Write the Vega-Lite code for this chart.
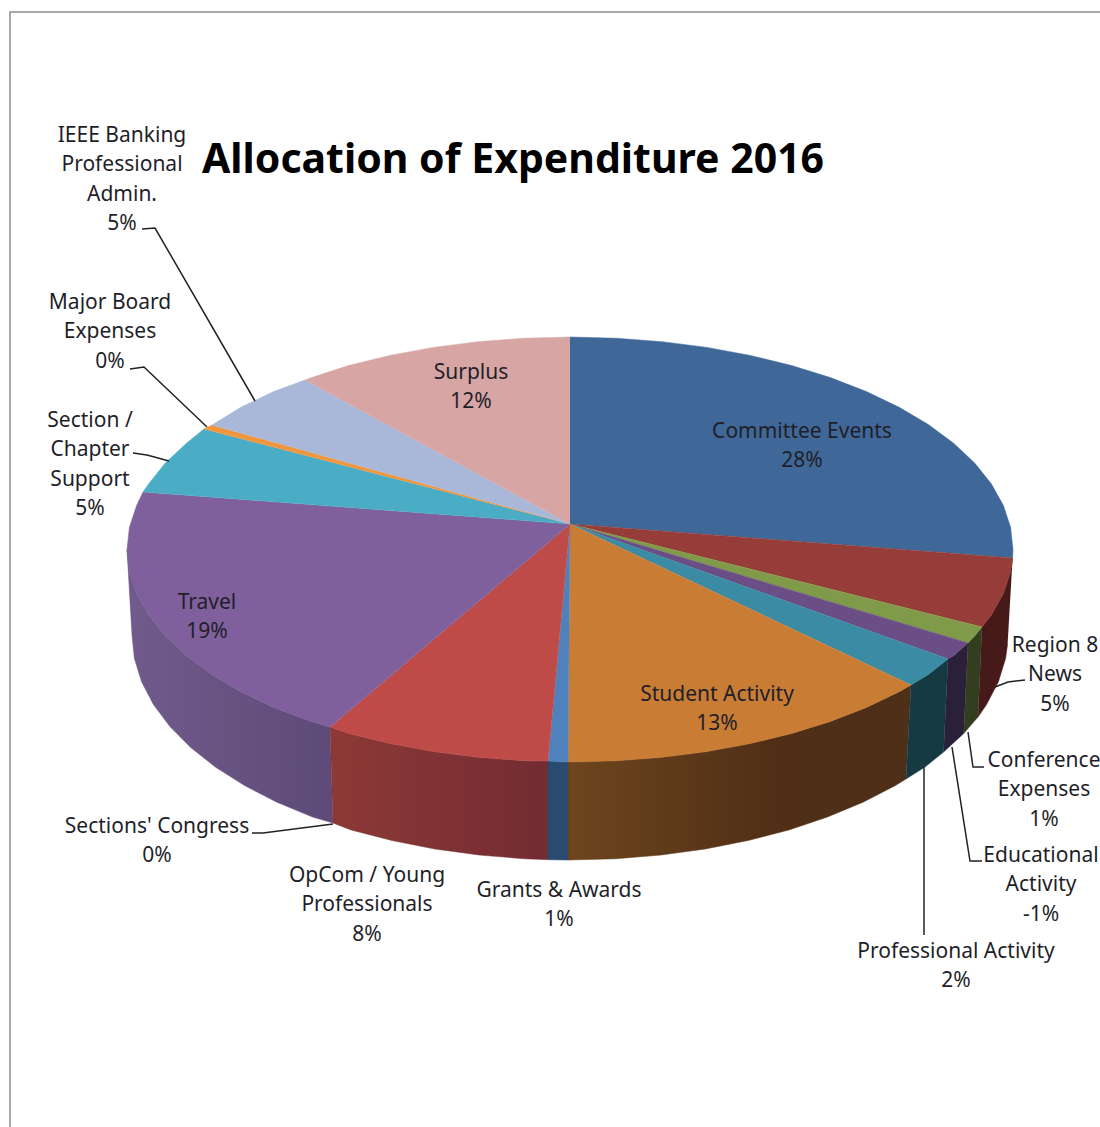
{"$schema":"https://vega.github.io/schema/vega-lite/v6.json","autosize":{"type":"none"},"width":1100,"height":1127,"padding":0,"background":"white","config":{"view":{"stroke":null}},
"resolve":{"scale":{"fill":"independent","stroke":"independent"}},
"datasets":{
"top":[
{"s":"Committee Events","i":0,"x":570,"y":524},{"s":"Committee Events","i":1,"x":570,"y":337},{"s":"Committee Events","i":2,"x":616.3,"y":338.2},{"s":"Committee Events","i":3,"x":662.1,"y":341.7},{"s":"Committee Events","i":4,"x":706.9,"y":347.4},{"s":"Committee Events","i":5,"x":750.2,"y":355.4},{"s":"Committee Events","i":6,"x":791.5,"y":365.5},{"s":"Committee Events","i":7,"x":830.4,"y":377.6},{"s":"Committee Events","i":8,"x":866.4,"y":391.6},{"s":"Committee Events","i":9,"x":899.2,"y":407.3},{"s":"Committee Events","i":10,"x":928.4,"y":424.6},{"s":"Committee Events","i":11,"x":953.6,"y":443.2},{"s":"Committee Events","i":12,"x":974.7,"y":463.1},{"s":"Committee Events","i":13,"x":991.3,"y":483.8},{"s":"Committee Events","i":14,"x":1003.3,"y":505.3},{"s":"Committee Events","i":15,"x":1010.6,"y":527.3},{"s":"Committee Events","i":16,"x":1013,"y":549.5},{"s":"Committee Events","i":17,"x":1012.6,"y":558},
{"s":"Region 8 News","i":0,"x":570,"y":524},{"s":"Region 8 News","i":1,"x":1012.6,"y":558},{"s":"Region 8 News","i":2,"x":1010.6,"y":571.7},{"s":"Region 8 News","i":3,"x":1003.3,"y":593.7},{"s":"Region 8 News","i":4,"x":991.3,"y":615.2},{"s":"Region 8 News","i":5,"x":982,"y":627},
{"s":"Conference Expenses","i":0,"x":570,"y":524},{"s":"Conference Expenses","i":1,"x":982,"y":627},{"s":"Conference Expenses","i":2,"x":974.7,"y":635.9},{"s":"Conference Expenses","i":3,"x":968,"y":643},
{"s":"Educational Activity","i":0,"x":570,"y":524},{"s":"Educational Activity","i":1,"x":968,"y":643},{"s":"Educational Activity","i":2,"x":953.6,"y":655.8},{"s":"Educational Activity","i":3,"x":948,"y":659},
{"s":"Professional Activity","i":0,"x":570,"y":524},{"s":"Professional Activity","i":1,"x":948,"y":659},{"s":"Professional Activity","i":2,"x":928.4,"y":674.4},{"s":"Professional Activity","i":3,"x":911,"y":685},
{"s":"Student Activity","i":0,"x":570,"y":524},{"s":"Student Activity","i":1,"x":911,"y":685},{"s":"Student Activity","i":2,"x":899.2,"y":691.7},{"s":"Student Activity","i":3,"x":866.4,"y":707.4},{"s":"Student Activity","i":4,"x":830.4,"y":721.4},{"s":"Student Activity","i":5,"x":791.5,"y":733.5},{"s":"Student Activity","i":6,"x":750.2,"y":743.6},{"s":"Student Activity","i":7,"x":706.9,"y":751.6},{"s":"Student Activity","i":8,"x":662.1,"y":757.3},{"s":"Student Activity","i":9,"x":616.3,"y":760.8},{"s":"Student Activity","i":10,"x":570,"y":762},{"s":"Student Activity","i":11,"x":568,"y":762},
{"s":"Grants & Awards","i":0,"x":570,"y":524},{"s":"Grants & Awards","i":1,"x":568,"y":762},{"s":"Grants & Awards","i":2,"x":548,"y":761},
{"s":"OpCom / Young Professionals","i":0,"x":570,"y":524},{"s":"OpCom / Young Professionals","i":1,"x":548,"y":761},{"s":"OpCom / Young Professionals","i":2,"x":523.7,"y":760.8},{"s":"OpCom / Young Professionals","i":3,"x":477.9,"y":757.3},{"s":"OpCom / Young Professionals","i":4,"x":433.1,"y":751.6},{"s":"OpCom / Young Professionals","i":5,"x":389.8,"y":743.6},{"s":"OpCom / Young Professionals","i":6,"x":348.5,"y":733.5},{"s":"OpCom / Young Professionals","i":7,"x":330,"y":727},
{"s":"Travel","i":0,"x":570,"y":524},{"s":"Travel","i":1,"x":330,"y":727},{"s":"Travel","i":2,"x":311.6,"y":721.4},{"s":"Travel","i":3,"x":273.6,"y":707.4},{"s":"Travel","i":4,"x":240.8,"y":691.7},{"s":"Travel","i":5,"x":211.6,"y":674.4},{"s":"Travel","i":6,"x":186.4,"y":655.8},{"s":"Travel","i":7,"x":165.3,"y":635.9},{"s":"Travel","i":8,"x":148.7,"y":615.2},{"s":"Travel","i":9,"x":136.7,"y":593.7},{"s":"Travel","i":10,"x":129.4,"y":571.7},{"s":"Travel","i":11,"x":127,"y":549.5},{"s":"Travel","i":12,"x":129.4,"y":527.3},{"s":"Travel","i":13,"x":136.7,"y":505.3},{"s":"Travel","i":14,"x":143,"y":492},
{"s":"Section / Chapter Support","i":0,"x":570,"y":524},{"s":"Section / Chapter Support","i":1,"x":143,"y":492},{"s":"Section / Chapter Support","i":2,"x":148.7,"y":483.8},{"s":"Section / Chapter Support","i":3,"x":165.3,"y":463.1},{"s":"Section / Chapter Support","i":4,"x":186.4,"y":443.2},{"s":"Section / Chapter Support","i":5,"x":204,"y":429},
{"s":"Major Board Expenses","i":0,"x":570,"y":524},{"s":"Major Board Expenses","i":1,"x":204,"y":429},{"s":"Major Board Expenses","i":2,"x":212,"y":425},
{"s":"IEEE Banking Professional Admin.","i":0,"x":570,"y":524},{"s":"IEEE Banking Professional Admin.","i":1,"x":212,"y":425},{"s":"IEEE Banking Professional Admin.","i":2,"x":240.8,"y":407.3},{"s":"IEEE Banking Professional Admin.","i":3,"x":273.6,"y":391.6},{"s":"IEEE Banking Professional Admin.","i":4,"x":305,"y":380},
{"s":"Surplus","i":0,"x":570,"y":524},{"s":"Surplus","i":1,"x":305,"y":380},{"s":"Surplus","i":2,"x":311.6,"y":377.6},{"s":"Surplus","i":3,"x":348.5,"y":365.5},{"s":"Surplus","i":4,"x":389.8,"y":355.4},{"s":"Surplus","i":5,"x":433.1,"y":347.4},{"s":"Surplus","i":6,"x":477.9,"y":341.7},{"s":"Surplus","i":7,"x":523.7,"y":338.2},{"s":"Surplus","i":8,"x":570,"y":337}
],
"walls":[
{"s":"Region 8 News","i":0,"x":1012.6,"y":558},{"s":"Region 8 News","i":1,"x":1010.6,"y":571.7},{"s":"Region 8 News","i":2,"x":1003.3,"y":593.7},{"s":"Region 8 News","i":3,"x":991.3,"y":615.2},{"s":"Region 8 News","i":4,"x":982,"y":627},{"s":"Region 8 News","i":5,"x":978,"y":717},{"s":"Region 8 News","i":6,"x":986.6,"y":704.5},{"s":"Region 8 News","i":7,"x":998.4,"y":681.8},{"s":"Region 8 News","i":8,"x":1005.6,"y":658.5},{"s":"Region 8 News","i":9,"x":1007.6,"y":644},
{"s":"Conference Expenses","i":0,"x":982,"y":627},{"s":"Conference Expenses","i":1,"x":974.7,"y":635.9},{"s":"Conference Expenses","i":2,"x":968,"y":643},{"s":"Conference Expenses","i":3,"x":963.7,"y":733.6},{"s":"Conference Expenses","i":4,"x":978,"y":717},
{"s":"Educational Activity","i":0,"x":968,"y":643},{"s":"Educational Activity","i":1,"x":953.6,"y":655.8},{"s":"Educational Activity","i":2,"x":948,"y":659},{"s":"Educational Activity","i":3,"x":943.6,"y":752},{"s":"Educational Activity","i":4,"x":963.7,"y":733.6},
{"s":"Professional Activity","i":0,"x":948,"y":659},{"s":"Professional Activity","i":1,"x":928.4,"y":674.4},{"s":"Professional Activity","i":2,"x":911,"y":685},{"s":"Professional Activity","i":3,"x":906,"y":779},{"s":"Professional Activity","i":4,"x":925,"y":767},{"s":"Professional Activity","i":5,"x":943.6,"y":752},
{"s":"Student Activity","i":0,"x":911,"y":685},{"s":"Student Activity","i":1,"x":899.2,"y":691.7},{"s":"Student Activity","i":2,"x":866.4,"y":707.4},{"s":"Student Activity","i":3,"x":830.4,"y":721.4},{"s":"Student Activity","i":4,"x":791.5,"y":733.5},{"s":"Student Activity","i":5,"x":750.2,"y":743.6},{"s":"Student Activity","i":6,"x":706.9,"y":751.6},{"s":"Student Activity","i":7,"x":662.1,"y":757.3},{"s":"Student Activity","i":8,"x":616.3,"y":760.8},{"s":"Student Activity","i":9,"x":568,"y":762},{"s":"Student Activity","i":10,"x":568,"y":860},{"s":"Student Activity","i":11,"x":615.8,"y":858.8},{"s":"Student Activity","i":12,"x":661.1,"y":855},{"s":"Student Activity","i":13,"x":705.3,"y":849},{"s":"Student Activity","i":14,"x":748.1,"y":840.5},{"s":"Student Activity","i":15,"x":789,"y":829.9},{"s":"Student Activity","i":16,"x":827.5,"y":817},{"s":"Student Activity","i":17,"x":863.1,"y":802.2},{"s":"Student Activity","i":18,"x":895.5,"y":785.5},{"s":"Student Activity","i":19,"x":906,"y":779},
{"s":"Grants & Awards","i":0,"x":568,"y":762},{"s":"Grants & Awards","i":1,"x":548,"y":761},{"s":"Grants & Awards","i":2,"x":548,"y":859.7},{"s":"Grants & Awards","i":3,"x":568,"y":860},
{"s":"OpCom / Young Professionals","i":0,"x":548,"y":761},{"s":"OpCom / Young Professionals","i":1,"x":523.7,"y":760.8},{"s":"OpCom / Young Professionals","i":2,"x":477.9,"y":757.3},{"s":"OpCom / Young Professionals","i":3,"x":433.1,"y":751.6},{"s":"OpCom / Young Professionals","i":4,"x":389.8,"y":743.6},{"s":"OpCom / Young Professionals","i":5,"x":348.5,"y":733.5},{"s":"OpCom / Young Professionals","i":6,"x":330,"y":727},{"s":"OpCom / Young Professionals","i":7,"x":333,"y":823},{"s":"OpCom / Young Professionals","i":8,"x":351,"y":829.9},{"s":"OpCom / Young Professionals","i":9,"x":391.9,"y":840.5},{"s":"OpCom / Young Professionals","i":10,"x":434.7,"y":849},{"s":"OpCom / Young Professionals","i":11,"x":478.9,"y":855},{"s":"OpCom / Young Professionals","i":12,"x":524.2,"y":858.8},{"s":"OpCom / Young Professionals","i":13,"x":548,"y":859.7},
{"s":"Travel","i":0,"x":330,"y":727},{"s":"Travel","i":1,"x":311.6,"y":721.4},{"s":"Travel","i":2,"x":273.6,"y":707.4},{"s":"Travel","i":3,"x":240.8,"y":691.7},{"s":"Travel","i":4,"x":211.6,"y":674.4},{"s":"Travel","i":5,"x":186.4,"y":655.8},{"s":"Travel","i":6,"x":165.3,"y":635.9},{"s":"Travel","i":7,"x":148.7,"y":615.2},{"s":"Travel","i":8,"x":136.7,"y":593.7},{"s":"Travel","i":9,"x":129.4,"y":571.7},{"s":"Travel","i":10,"x":127,"y":549.5},{"s":"Travel","i":11,"x":132,"y":635},{"s":"Travel","i":12,"x":134.4,"y":658.5},{"s":"Travel","i":13,"x":141.6,"y":681.8},{"s":"Travel","i":14,"x":153.4,"y":704.5},{"s":"Travel","i":15,"x":169.9,"y":726.5},{"s":"Travel","i":16,"x":190.7,"y":747.5},{"s":"Travel","i":17,"x":215.7,"y":767.3},{"s":"Travel","i":18,"x":244.5,"y":785.5},{"s":"Travel","i":19,"x":276.9,"y":802.2},{"s":"Travel","i":20,"x":312.5,"y":817},{"s":"Travel","i":21,"x":333,"y":823}
],
"labels":[
{"text":"Committee  Events\n28%","x":802,"y":438},
{"text":"Region 8\nNews\n5%","x":1055,"y":652},
{"text":"Conference\nExpenses\n1%","x":1044,"y":767},
{"text":"Educational\nActivity\n-1%","x":1041,"y":862},
{"text":"Professional Activity\n2%","x":956,"y":958},
{"text":"Student  Activity\n13%","x":717,"y":701},
{"text":"Grants & Awards\n1%","x":559,"y":897},
{"text":"OpCom / Young\nProfessionals\n8%","x":367,"y":882},
{"text":"Sections' Congress\n0%","x":157,"y":833},
{"text":"Travel\n19%","x":207,"y":609},
{"text":"Section /\nChapter\nSupport\n5%","x":90,"y":427},
{"text":"Major Board\nExpenses\n0%","x":110,"y":309},
{"text":"IEEE Banking\nProfessional\nAdmin.\n5%","x":122,"y":142},
{"text":"Surplus\n12%","x":471,"y":379}
],
"leaders":[
{"s":"IEEE","i":0,"x":142,"y":229},{"s":"IEEE","i":1,"x":155,"y":228},{"s":"IEEE","i":2,"x":255,"y":401},
{"s":"Major","i":0,"x":130,"y":369},{"s":"Major","i":1,"x":144,"y":367},{"s":"Major","i":2,"x":207,"y":427},
{"s":"Section","i":0,"x":133,"y":453},{"s":"Section","i":1,"x":147,"y":455},{"s":"Section","i":2,"x":169,"y":461},
{"s":"Congress","i":0,"x":252,"y":833},{"s":"Congress","i":1,"x":263,"y":833},{"s":"Congress","i":2,"x":333,"y":824},
{"s":"Region","i":0,"x":995,"y":687},{"s":"Region","i":1,"x":1008,"y":682},{"s":"Region","i":2,"x":1025,"y":680},
{"s":"Conference","i":0,"x":968,"y":732},{"s":"Conference","i":1,"x":973,"y":767},{"s":"Conference","i":2,"x":984,"y":767},
{"s":"Educational","i":0,"x":952,"y":747},{"s":"Educational","i":1,"x":970,"y":861},{"s":"Educational","i":2,"x":982,"y":861},
{"s":"Professional","i":0,"x":924,"y":767},{"s":"Professional","i":1,"x":924,"y":935}
],
"frame":[{"i":0,"x":10,"y":1127},{"i":1,"x":10,"y":12},{"i":2,"x":1100,"y":12}],
"title":[{"text":"Allocation of Expenditure 2016","x":513,"y":173}]
},
"encoding":{
"x":{"field":"x","type":"quantitative","scale":{"domain":[0,1100],"nice":false,"zero":false},"axis":null},
"y":{"field":"y","type":"quantitative","scale":{"domain":[1127,0],"nice":false,"zero":false},"axis":null}
},
"layer":[
{"data":{"name":"frame"},"mark":{"type":"line","stroke":"#8c8c8c","strokeWidth":1.5},"encoding":{"order":{"field":"i","type":"ordinal"}}},
{"data":{"name":"walls"},"transform":[{"filter":"datum.s==='Travel'"}],"mark":{"type":"line","strokeWidth":0.5,"stroke":"#655080","fill":{"gradient":"linear","x1":0,"y1":0,"x2":1,"y2":0,"stops":[{"offset":0,"color":"#705b8c"},{"offset":1,"color":"#5e4a78"}]}},"encoding":{"order":{"field":"i","type":"ordinal"}}},
{"data":{"name":"walls"},"transform":[{"filter":"datum.s==='OpCom / Young Professionals'"}],"mark":{"type":"line","strokeWidth":0.5,"stroke":"#7d3234","fill":{"gradient":"linear","x1":0,"y1":0,"x2":1,"y2":0,"stops":[{"offset":0,"color":"#8d3936"},{"offset":1,"color":"#722c32"}]}},"encoding":{"order":{"field":"i","type":"ordinal"}}},
{"data":{"name":"walls"},"transform":[{"filter":"datum.s==='Student Activity'"}],"mark":{"type":"line","strokeWidth":0.5,"stroke":"#593719","fill":{"gradient":"linear","x1":0,"y1":0,"x2":1,"y2":0,"stops":[{"offset":0,"color":"#6e451e"},{"offset":0.6,"color":"#502f16"},{"offset":1,"color":"#4e2f17"}]}},"encoding":{"order":{"field":"i","type":"ordinal"}}},
{"data":{"name":"walls"},"transform":[{"filter":"datum.s!=='Travel'&&datum.s!=='OpCom / Young Professionals'&&datum.s!=='Student Activity'"}],"mark":{"type":"line","strokeWidth":0.5},
"encoding":{"order":{"field":"i","type":"ordinal"},
"fill":{"field":"s","type":"nominal","legend":null,"scale":{"domain":["Region 8 News","Conference Expenses","Educational Activity","Professional Activity","Grants & Awards"],"range":["#451a18","#323e1f","#2a203a","#163a42","#2b4a70"]}},
"stroke":{"field":"s","type":"nominal","legend":null,"scale":{"domain":["Region 8 News","Conference Expenses","Educational Activity","Professional Activity","Grants & Awards"],"range":["#451a18","#323e1f","#2a203a","#163a42","#2b4a70"]}}}},
{"data":{"name":"top"},"mark":{"type":"line","strokeWidth":0.5},
"encoding":{"order":{"field":"i","type":"ordinal"},
"fill":{"field":"s","type":"nominal","legend":null,"scale":{"domain":["Committee Events","Region 8 News","Conference Expenses","Educational Activity","Professional Activity","Student Activity","Grants & Awards","OpCom / Young Professionals","Travel","Section / Chapter Support","Major Board Expenses","IEEE Banking Professional Admin.","Surplus"],"range":["#3f6797","#963d3a","#7f9a48","#6a4e85","#3b8ba4","#c97c34","#4f81bd","#be4b48","#7f609d","#4bacc6","#f0963f","#a9b8d8","#d8a5a5"]}},
"stroke":{"field":"s","type":"nominal","legend":null,"scale":{"domain":["Committee Events","Region 8 News","Conference Expenses","Educational Activity","Professional Activity","Student Activity","Grants & Awards","OpCom / Young Professionals","Travel","Section / Chapter Support","Major Board Expenses","IEEE Banking Professional Admin.","Surplus"],"range":["#3f6797","#963d3a","#7f9a48","#6a4e85","#3b8ba4","#c97c34","#4f81bd","#be4b48","#7f609d","#4bacc6","#f0963f","#a9b8d8","#d8a5a5"]}}}},
{"data":{"name":"leaders"},"mark":{"type":"line","stroke":"#222222","strokeWidth":1.5},"encoding":{"detail":{"field":"s"},"order":{"field":"i","type":"ordinal"}}},
{"data":{"name":"labels"},"mark":{"type":"text","font":"Noto Sans","fontSize":21,"lineHeight":29.4,"lineBreak":"\n","align":"center","baseline":"alphabetic","fill":"#1f1f2a"},"encoding":{"text":{"field":"text"}}},
{"data":{"name":"title"},"mark":{"type":"text","font":"Noto Sans","fontWeight":"bold","fontSize":41,"align":"center","baseline":"alphabetic","fill":"#000000"},"encoding":{"text":{"field":"text"}}}
]}
